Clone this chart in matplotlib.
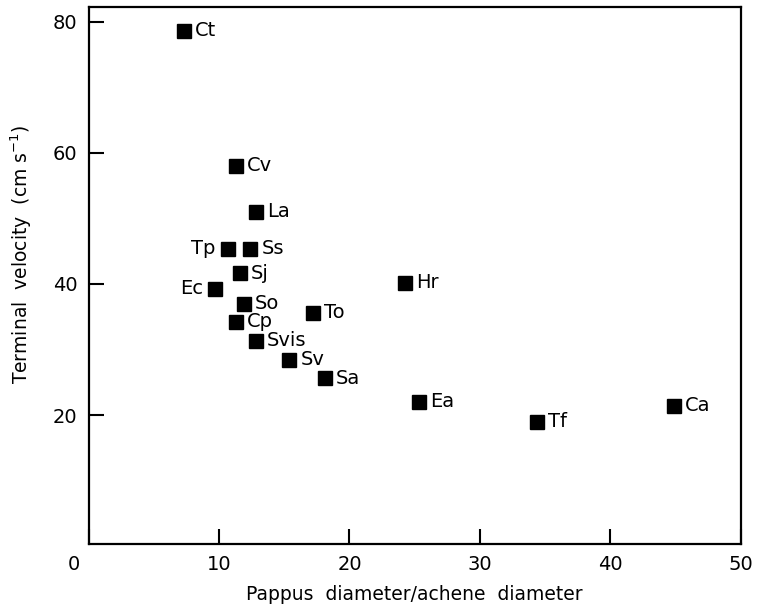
import matplotlib
matplotlib.use('Agg')
import matplotlib.pyplot as plt
import matplotlib.transforms as mtransforms

plt.rcParams['font.family'] = 'DejaVu Sans'

# Species codes and values
species = ['Ct', 'Cv', 'La', 'Tp', 'Ss', 'Sj', 'Ec', 'So', 'To', 'Cp',
           'Svis', 'Sv', 'Sa', 'Hr', 'Ea', 'Tf', 'Ca']
ratio = [7.3, 11.3, 12.8, 10.7, 12.4, 11.6, 9.7, 11.9, 17.2, 11.3,
         12.8, 15.4, 18.1, 24.3, 25.3, 34.4, 44.9]
velocity = [78.6, 58.0, 51.0, 45.4, 45.4, 41.6, 39.3, 37.0, 35.6, 34.2,
            31.3, 28.4, 25.6, 40.2, 22.0, 19.0, 21.4]
left_labels = ['Tp', 'Ec']

fig = plt.figure(figsize=(7.58, 6.04), dpi=100)
ax = fig.add_axes([0.117, 0.099, 0.86, 0.889])

ax.plot(ratio, velocity, 's', color='black', markersize=10, linestyle='none')

for name, x, y in zip(species, ratio, velocity):
    if name in left_labels:
        ax.annotate(name, (x, y), xytext=(-9, 0), textcoords='offset points',
                    ha='right', va='center', fontsize=14)
    else:
        ax.annotate(name, (x, y), xytext=(8, 0), textcoords='offset points',
                    ha='left', va='center', fontsize=14)

ax.set_xlim(0, 50)
ax.set_ylim(0.3, 82.2)
ax.set_xticks([0, 10, 20, 30, 40, 50])
ax.set_yticks([20, 40, 60, 80])
ax.tick_params(direction='in', length=11, width=1.5, labelsize=14, pad=8)

for side in ['left', 'right', 'top', 'bottom']:
    ax.spines[side].set_linewidth(1.6)

# the "0" sits a bit left of the origin in the original
lbl0 = ax.get_xticklabels()[0]
lbl0.set_transform(lbl0.get_transform() +
                   mtransforms.ScaledTranslation(-0.15, 0, fig.dpi_scale_trans))

ax.set_xlabel('Pappus  diameter/achene  diameter', fontsize=13.5, labelpad=8)
ax.set_ylabel('Terminal  velocity  (cm s$^{-1}$)', fontsize=13.5)
ax.yaxis.set_label_coords(-0.084, 0.54)

fig.savefig('out.png', dpi=100)
